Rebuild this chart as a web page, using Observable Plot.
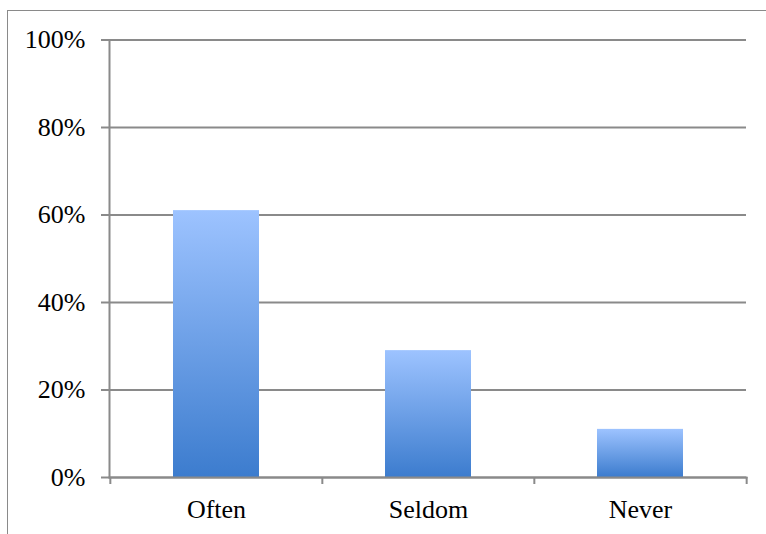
<!DOCTYPE html>
<html>
<head>
<meta charset="utf-8">
<script src="https://cdn.jsdelivr.net/npm/d3@7"></script>
<script src="https://cdn.jsdelivr.net/npm/@observablehq/plot@0.6"></script>
<style>
  html, body { margin: 0; padding: 0; background: #fff; }
  #wrap { position: relative; width: 766px; height: 534px; overflow: hidden; }
  #border { position: absolute; left: 7px; top: 10px; width: 800px; height: 600px;
            border-top: 1.5px solid #8a8a8a; border-left: 1.5px solid #8a8a8a; }
  #chart { position: absolute; left: 0; top: 0; }
</style>
</head>
<body>
<div id="wrap"><div id="border"></div><div id="chart"></div></div>
<script>
const categories = ["Often", "Seldom", "Never"];
const shares = [61, 29, 11]; // percent
const yTicks = [0, 20, 40, 60, 80, 100];

const data = categories.map((c, i) => ({category: c, value: shares[i]}));
const gray = "#8a8a8a";
const font = "Liberation Serif, DejaVu Serif, Times New Roman, serif";

const defs = () => {
  const g = d3.create("svg:defs");
  const lg = g.append("linearGradient").attr("id", "barGrad")
    .attr("x1", 0).attr("y1", 0).attr("x2", 0).attr("y2", 1);
  lg.append("stop").attr("offset", "0%").attr("stop-color", "#9dc3ff");
  lg.append("stop").attr("offset", "100%").attr("stop-color", "#3c7cce");
  return g.node();
};

const step = (746 - 109) / categories.length;

const chart = Plot.plot({
  width: 766,
  height: 534,
  marginLeft: 109,
  marginRight: 20,
  marginTop: 39.5,
  marginBottom: 57,
  style: {fontSize: "26px", color: "#000", background: "transparent"},
  x: {domain: categories, paddingInner: 0.595, paddingOuter: 0.2975, align: 0.5, axis: null},
  y: {domain: [0, 100], axis: null},
  marks: [
    defs,
    Plot.ruleY(yTicks, {y: d => d, stroke: gray, strokeWidth: 2}),
    Plot.barY(data, {x: "category", y: "value", fill: "url(#barGrad)",
      style: "filter: drop-shadow(2px 2px 2px rgba(0,0,0,0.22))"}),
    Plot.frame({anchor: "left", stroke: gray, strokeWidth: 2}),
    Plot.frame({anchor: "bottom", stroke: gray, strokeWidth: 2}),
    Plot.axisY(yTicks, {label: null, tickSize: 8, tickPadding: 16, stroke: gray, strokeWidth: 2,
      tickFormat: d => d + "%", fill: "#000", fontSize: 26}),
    Plot.axisX(categories, {label: null, tickSize: 7, dx: -step / 2, text: null, stroke: gray, strokeWidth: 2}),
    Plot.axisX(categories.slice(-1), {label: null, tickSize: 7, dx: step / 2, text: null, stroke: gray, strokeWidth: 2}),
    Plot.axisX(categories, {label: null, tickSize: 0, tickPadding: 22.5, fill: "#000", fontSize: 26})
  ]
});
chart.style.fontFamily = font;
chart.querySelectorAll("g, text").forEach(el => {
  el.setAttribute("font-family", font);
  el.style.fontFamily = font;
});
document.getElementById("chart").appendChild(chart);
</script>
</body>
</html>
